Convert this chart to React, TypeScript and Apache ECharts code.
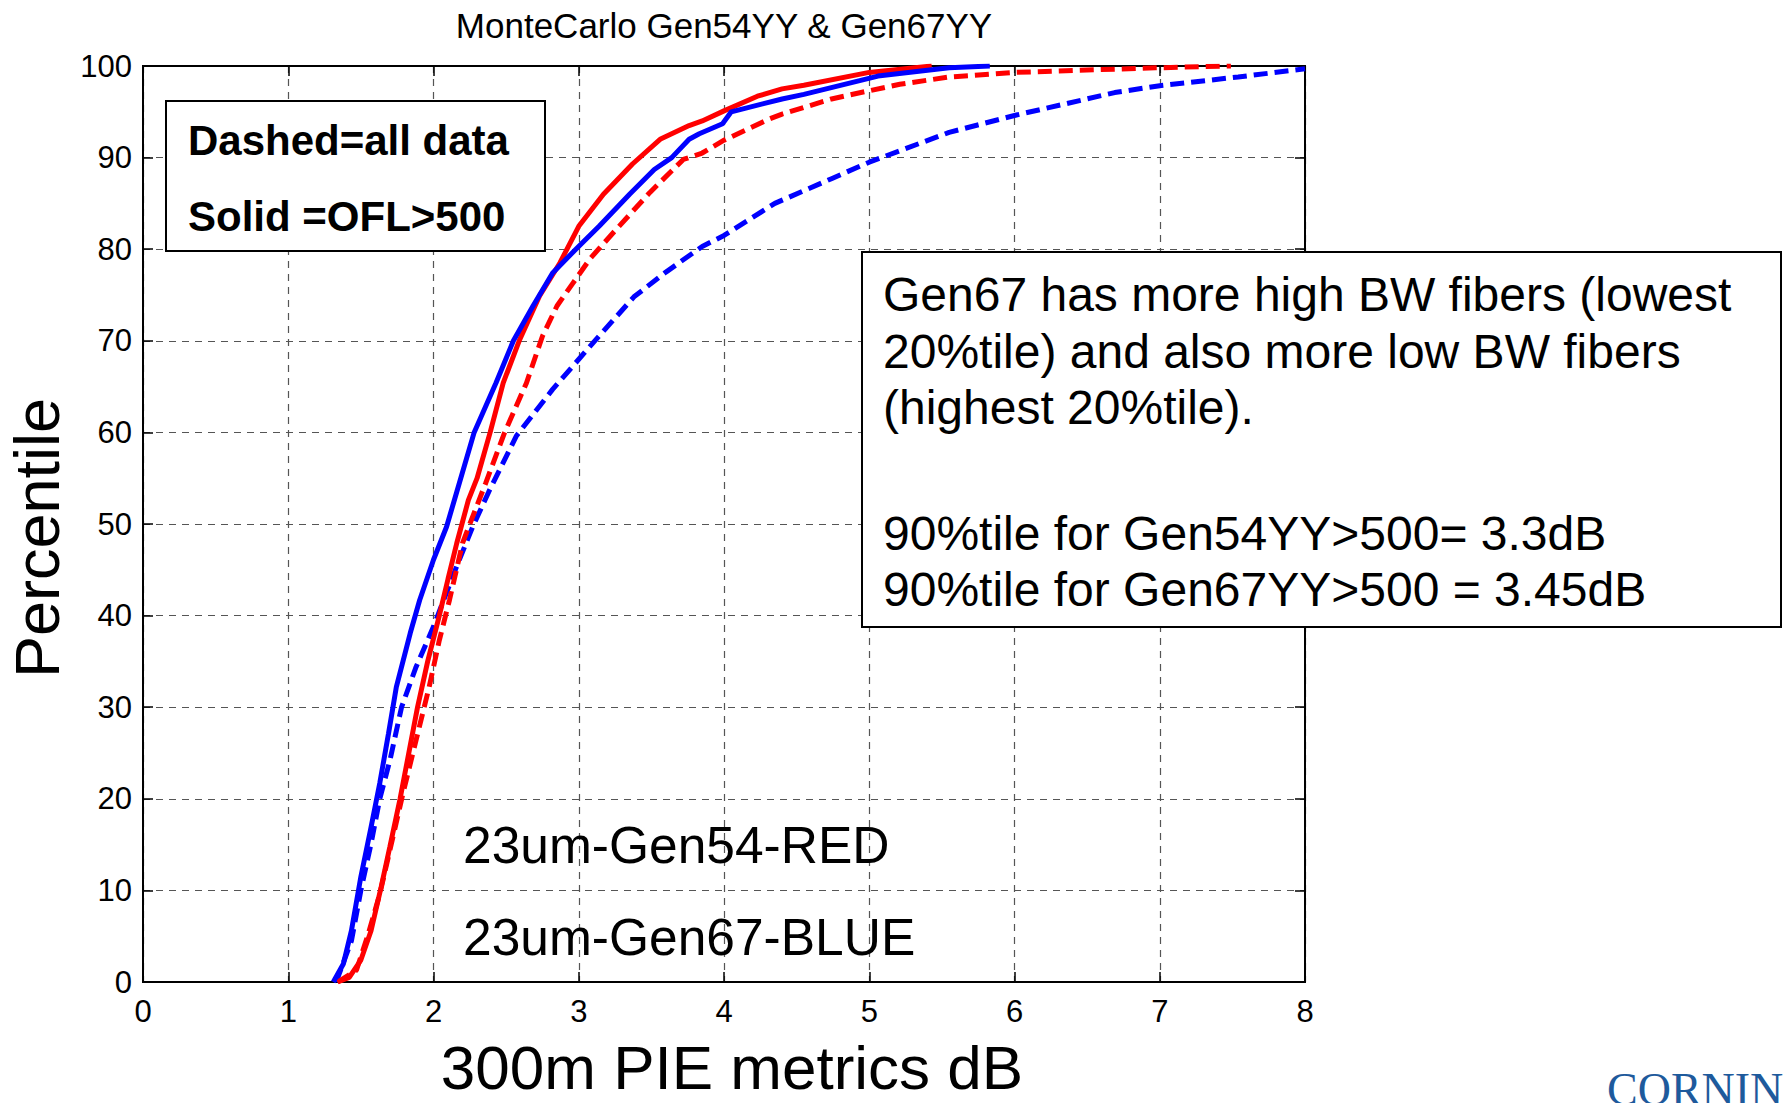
import React, { useEffect, useRef } from "react";
import * as echarts from "echarts";

const titleText = "MonteCarlo Gen54YY & Gen67YY";
const xAxisName = "300m PIE metrics dB";
const yAxisName = "Percentile";
const xMin = 0;
const xMax = 8;
const xStep = 1;
const yMin = 0;
const yMax = 100;
const yStep = 10;

// [PIE metric dB, percentile]
const gen54Solid: [number, number][] = [
  [1.34, 0], [1.42, 0.5], [1.5, 2.4], [1.57, 5.6], [1.64, 10.4], [1.7, 14.8], [1.77, 20],
  [1.83, 25], [1.89, 30], [1.96, 35], [2.04, 40], [2.1, 44], [2.16, 47.9], [2.24, 52.6],
  [2.3, 55], [2.39, 60], [2.48, 65.4], [2.59, 70], [2.73, 74.9], [2.87, 78.5], [3.0, 82.5],
  [3.17, 86], [3.37, 89.3], [3.56, 92.0], [3.76, 93.5], [3.85, 94.0], [4.0, 95.1],
  [4.23, 96.7], [4.4, 97.5], [4.55, 97.9], [5.0, 99.3], [5.43, 100],
];

const gen67Solid: [number, number][] = [
  [1.31, 0], [1.38, 2], [1.435, 5.6], [1.5, 11.5], [1.57, 16.9], [1.63, 21.7], [1.69, 27.1],
  [1.744, 32.2], [1.84, 38.1], [1.905, 41.7], [2.0, 46.1], [2.09, 49.7], [2.16, 53.5],
  [2.28, 60], [2.43, 65.4], [2.55, 70], [2.685, 73.8], [2.82, 77.4], [2.98, 80], [3.14, 82.5],
  [3.35, 86], [3.52, 88.7], [3.64, 90], [3.76, 92], [3.83, 92.6], [3.99, 93.7], [4.05, 95],
  [4.4, 96.4], [4.55, 96.9], [5.06, 98.9], [5.55, 99.8], [5.83, 100],
];

const gen54All: [number, number][] = [
  [1.34, 0], [1.47, 1.3], [1.55, 5.2], [1.63, 9.6], [1.7, 14.4], [1.79, 20.6], [1.88, 26.4],
  [1.97, 32.2], [2.04, 37.3], [2.11, 41.7], [2.2, 47.9], [2.25, 50], [2.36, 54.5], [2.49, 60],
  [2.64, 65.4], [2.75, 70.5], [2.85, 73.8], [2.96, 76.3], [3.08, 79], [3.26, 82.2],
  [3.49, 86.2], [3.72, 89.8], [3.85, 90.5], [4.0, 91.9], [4.31, 94.2], [4.4, 94.75],
  [4.74, 96.4], [5.0, 97.3], [5.21, 98.0], [5.55, 98.8], [6.0, 99.3], [6.97, 99.8], [7.49, 100],
];

const gen67All: [number, number][] = [
  [1.33, 0], [1.435, 4.5], [1.5, 10], [1.57, 15.1], [1.63, 20], [1.7, 24.2], [1.78, 30],
  [1.88, 34.4], [2.0, 38.8], [2.16, 45.4], [2.27, 49.7], [2.38, 53.5], [2.57, 59.6],
  [2.82, 64.7], [3.1, 69.8], [3.38, 74.8], [3.6, 77.5], [3.85, 80.3], [4.0, 81.5],
  [4.35, 85], [4.74, 87.7], [5.0, 89.5], [5.55, 92.75], [6.0, 94.6], [6.69, 97.1],
  [7.0, 97.85], [7.54, 98.8], [8.0, 99.7],
];

const legendLines = ["Dashed=all data", "Solid =OFL>500"];
const noteLines = [
  "Gen67 has more high BW fibers (lowest",
  "20%tile) and also more low BW fibers",
  "(highest 20%tile).",
  "90%tile for Gen54YY>500= 3.3dB",
  "90%tile for Gen67YY>500 = 3.45dB",
];
const seriesLabels = ["23um-Gen54-RED", "23um-Gen67-BLUE"];

const SANS = '"Liberation Sans", Arial, sans-serif';

export default function App() {
  const ref = useRef<HTMLDivElement>(null);
  useEffect(() => {
    const chart = echarts.init(ref.current!, null, { renderer: "svg" });
    const baseAxis = {
      type: "value",
      min: xMin,
      max: xMax,
      interval: xStep,
    };
    const tick = { show: true, inside: true, length: 10, lineStyle: { color: "#000", width: 1.5 } };
    const axisLine = { show: true, onZero: false, lineStyle: { color: "#000", width: 2 } };
    const split = { show: true, lineStyle: { color: "#555", width: 1.2, type: [7, 6] } };
    const noteY = [294, 351, 407, 533, 589];
    const lw = 5;
    chart.setOption({
      animation: false,
      backgroundColor: "#fff",
      title: {
        text: titleText,
        left: 724,
        textAlign: "center",
        top: 8,
        padding: 0,
        textStyle: { fontSize: 35, fontWeight: "normal", color: "#000", fontFamily: SANS },
      },
      grid: {
        left: 143,
        top: 66,
        width: 1162,
        height: 916,
        show: true,
        borderColor: "#000",
        borderWidth: 2,
      },
      xAxis: [
        {
          ...baseAxis,
          position: "bottom",
          axisLine,
          axisTick: tick,
          axisLabel: { fontSize: 31, color: "#000", fontFamily: SANS, margin: 14 },
          splitLine: split,
        },
        {
          ...baseAxis,
          position: "top",
          axisLine,
          axisTick: tick,
          axisLabel: { show: false },
          splitLine: { show: false },
        },
      ],
      yAxis: [
        {
          type: "value",
          min: yMin,
          max: yMax,
          interval: yStep,
          position: "left",
          axisLine,
          axisTick: tick,
          axisLabel: { fontSize: 31, color: "#000", fontFamily: SANS, margin: 11 },
          splitLine: split,
        },
        {
          type: "value",
          min: yMin,
          max: yMax,
          interval: yStep,
          position: "right",
          axisLine,
          axisTick: tick,
          axisLabel: { show: false },
          splitLine: { show: false },
        },
      ],
      series: [
        {
          type: "line",
          name: "Gen67YY all data",
          data: gen67All,
          showSymbol: false,
          lineStyle: { color: "#0000ff", width: lw, type: [14, 7] },
          itemStyle: { color: "#0000ff" },
        },
        {
          type: "line",
          name: "Gen54YY all data",
          data: gen54All,
          showSymbol: false,
          lineStyle: { color: "#ff0000", width: lw, type: [14, 7] },
          itemStyle: { color: "#ff0000" },
        },
        {
          type: "line",
          name: "Gen54YY OFL>500",
          data: gen54Solid,
          showSymbol: false,
          lineStyle: { color: "#ff0000", width: lw },
          itemStyle: { color: "#ff0000" },
        },
        {
          type: "line",
          name: "Gen67YY OFL>500",
          data: gen67Solid,
          showSymbol: false,
          lineStyle: { color: "#0000ff", width: lw },
          itemStyle: { color: "#0000ff" },
        },
      ],
      graphic: [
        {
          type: "text",
          x: 37,
          y: 538,
          rotation: Math.PI / 2,
          style: { text: yAxisName, font: `63px ${SANS}`, fill: "#000", align: "center", verticalAlign: "middle" },
        },
        {
          type: "text",
          x: 732,
          y: 1067,
          style: {
            text: xAxisName,
            font: `62px ${SANS}`,
            lineHeight: 52,
            fill: "#000",
            align: "center",
            verticalAlign: "middle",
          },
        },
        {
          type: "rect",
          z: 100,
          shape: { x: 166, y: 101, width: 379, height: 150 },
          style: { fill: "#fff", stroke: "#000", lineWidth: 2 },
        },
        ...legendLines.map((t, i) => ({
          type: "text",
          z: 101,
          x: 188,
          y: i === 0 ? 140 : 216,
          style: { text: t, font: `bold 42px ${SANS}`, fill: "#000", align: "left", verticalAlign: "middle" },
        })),
        {
          type: "rect",
          z: 100,
          shape: { x: 862, y: 252, width: 919, height: 375 },
          style: { fill: "#fff", stroke: "#000", lineWidth: 2 },
        },
        ...noteLines.map((t, i) => ({
          type: "text",
          z: 101,
          x: 883,
          y: noteY[i],
          style: { text: t, font: `48px ${SANS}`, fill: "#000", align: "left", verticalAlign: "middle" },
        })),
        ...seriesLabels.map((t, i) => ({
          type: "text",
          z: 101,
          x: 463,
          y: i === 0 ? 845 : 937,
          style: { text: t, font: `51.5px ${SANS}`, fill: "#000", align: "left", verticalAlign: "middle" },
        })),
        {
          type: "text",
          z: 101,
          x: 1607,
          y: 1089,
          style: {
            text: "CORNING",
            font: `46px "Liberation Serif", serif`,
            lineHeight: 28,
            fill: "#1e5a9c",
            align: "left",
            verticalAlign: "middle",
          },
        },
      ],
    });
    return () => chart.dispose();
  }, []);
  return (
    <div
      ref={ref}
      style={{ position: "fixed", left: 0, top: 0, width: 1783, height: 1103, background: "#fff" }}
    />
  );
}
